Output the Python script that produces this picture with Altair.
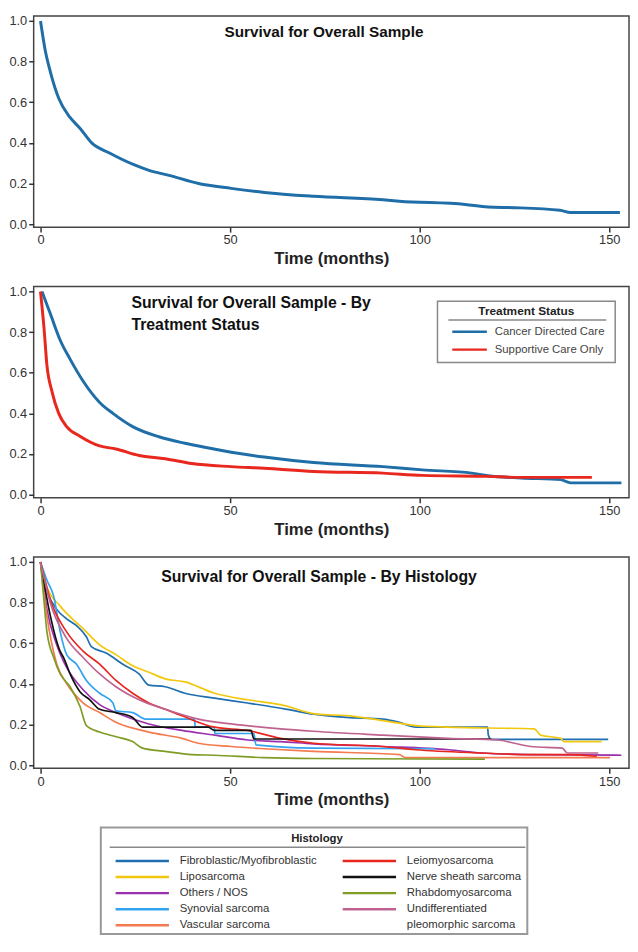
import altair as alt
import pandas as pd

# ---------------- data ----------------
x_ticks = [0, 50, 100, 150]
y_ticks = [0.0, 0.2, 0.4, 0.6, 0.8, 1.0]

overall_t = [0, 1.2, 2.6, 4.8, 7.8, 10.4, 13.5, 18.2, 24.3, 28.6, 33.9, 41.7, 50.3, 59, 72, 90.3, 94.6, 112, 118, 125, 137, 139.8, 152.8]
overall_s = [1.0, 0.86, 0.75, 0.62, 0.525, 0.472, 0.40, 0.35, 0.295, 0.265, 0.24, 0.20, 0.176, 0.156, 0.137, 0.12, 0.113, 0.097, 0.084, 0.081, 0.068, 0.057, 0.057]

treatment_names = ["Cancer Directed Care", "Supportive Care Only"]
treatment_colors = ["#1f6ea8", "#e8281e"]
cdc_t = [0.4, 2.6, 5.2, 7.8, 11.3, 15.6, 19.1, 24.3, 31.2, 38.1, 43.3, 50.3, 59, 72, 90.3, 100.7, 113.7, 118, 126.7, 137.2, 139.8, 153.2]
cdc_s = [1.0, 0.89, 0.76, 0.667, 0.557, 0.454, 0.40, 0.335, 0.285, 0.253, 0.233, 0.209, 0.185, 0.158, 0.138, 0.122, 0.106, 0.093, 0.082, 0.074, 0.058, 0.058]
sco_t = [0, 0.9, 1.7, 3.0, 4.8, 6.9, 10.4, 15.6, 19.9, 26, 32.9, 39.9, 50.3, 59, 72, 90.3, 100.7, 118, 126.7, 145.4]
sco_s = [1.0, 0.826, 0.636, 0.51, 0.40, 0.335, 0.288, 0.24, 0.225, 0.193, 0.177, 0.153, 0.138, 0.13, 0.114, 0.106, 0.095, 0.09, 0.085, 0.085]

histology_names = ["Fibroblastic/Myofibroblastic", "Liposarcoma", "Others / NOS", "Synovial sarcoma",
                   "Vascular sarcoma", "Leiomyosarcoma", "Nerve sheath sarcoma", "Rhabdomyosarcoma",
                   "Undifferentiated pleomorphic sarcoma"]
histology_colors = ["#1f6fb0", "#f2c80f", "#9b2fae", "#33a3f0", "#f47a50", "#e8261e", "#111111", "#7f9c24", "#c0628f"]
legend_col = [0, 0, 0, 0, 0, 1, 1, 1, 1]
legend_row = [0, 1, 2, 3, 4, 0, 1, 2, 3]
legend_lines = [["Fibroblastic/Myofibroblastic"], ["Liposarcoma"], ["Others / NOS"], ["Synovial sarcoma"],
                ["Vascular sarcoma"], ["Leiomyosarcoma"], ["Nerve sheath sarcoma"], ["Rhabdomyosarcoma"],
                ["Undifferentiated", "pleomorphic sarcoma"]]

fibro_t = [0, 1.7, 4.3, 6.9, 9.5, 12.1, 13.4, 17.3, 21.7, 26, 28.6, 32.9, 38.1, 45.9, 54.6, 65, 72, 80.7, 90.3, 94.6, 99, 112, 117.9, 118.1, 118.9, 149.7]
fibro_s = [1, 0.86, 0.767, 0.72, 0.687, 0.632, 0.584, 0.552, 0.497, 0.449, 0.394, 0.386, 0.354, 0.33, 0.306, 0.275, 0.251, 0.235, 0.227, 0.211, 0.187, 0.187, 0.187, 0.148, 0.127, 0.127]
lipo_t = [0, 1.7, 5.2, 11.3, 15.6, 19.9, 24.3, 28.6, 32.9, 38.1, 45.9, 54.6, 63.3, 72.9, 81.6, 90.3, 99, 107.6, 118, 130.2, 131.9, 137.2, 138, 148]
lipo_s = [1, 0.878, 0.783, 0.671, 0.592, 0.544, 0.489, 0.457, 0.425, 0.41, 0.354, 0.322, 0.298, 0.251, 0.243, 0.219, 0.195, 0.187, 0.183, 0.179, 0.148, 0.132, 0.116, 0.116]
others_t = [0, 1.7, 4.3, 6.9, 11.3, 15.6, 19.9, 28.6, 37.3, 45.9, 54.6, 63.3, 72, 90.3, 107.6, 116.2, 129.3, 153.2]
others_s = [1, 0.767, 0.592, 0.481, 0.37, 0.298, 0.259, 0.203, 0.171, 0.148, 0.124, 0.116, 0.105, 0.092, 0.076, 0.06, 0.052, 0.049]
syn_t = [0, 1.7, 3.5, 5.2, 6.9, 9.5, 12.1, 15.6, 19.1, 19.9, 24.3, 27.7, 40.6, 40.8, 45.8, 46.0, 56.3, 56.8, 72, 104]
syn_s = [1, 0.91, 0.83, 0.656, 0.544, 0.497, 0.417, 0.354, 0.306, 0.267, 0.259, 0.227, 0.227, 0.187, 0.187, 0.156, 0.156, 0.10, 0.084, 0.081]
vasc_t = [0, 1.7, 4.3, 6.9, 11.3, 15.6, 19.9, 28.6, 37.3, 41.6, 50.3, 58.9, 72, 94.6, 96.3, 150.2]
vasc_s = [1, 0.735, 0.497, 0.402, 0.306, 0.259, 0.211, 0.163, 0.132, 0.108, 0.092, 0.081, 0.068, 0.052, 0.037, 0.037]
leio_t = [0, 2.6, 6.9, 11.3, 15.6, 19.9, 24.3, 28.6, 32.9, 37.3, 45.9, 54.6, 63.3, 72, 90.3, 99, 116.2, 129.3, 139.8, 146.7]
leio_s = [1, 0.814, 0.656, 0.56, 0.497, 0.417, 0.354, 0.306, 0.275, 0.243, 0.187, 0.171, 0.132, 0.108, 0.092, 0.076, 0.06, 0.052, 0.052, 0.044]
nerve_t = [0, 2.6, 5.2, 6.1, 7.8, 10.4, 13, 15.6, 19.9, 24.3, 26.9, 44.2, 45.9, 55.5, 56.3, 118.9]
nerve_s = [1, 0.735, 0.56, 0.529, 0.449, 0.362, 0.322, 0.275, 0.259, 0.235, 0.187, 0.187, 0.171, 0.171, 0.129, 0.129]
rhabdo_t = [0, 0.9, 1.7, 3.5, 5.2, 7.8, 10.4, 12.1, 15.6, 19.9, 24.3, 26.9, 32.9, 39.9, 45.9, 58.9, 72, 117.2]
rhabdo_s = [1, 0.814, 0.656, 0.529, 0.449, 0.386, 0.29, 0.195, 0.163, 0.14, 0.116, 0.084, 0.068, 0.052, 0.049, 0.037, 0.033, 0.03]
undiff_t = [0, 2.6, 6.9, 11.3, 15.6, 19.9, 26, 32.9, 41.6, 50.3, 63.3, 72, 90.3, 107.6, 120.6, 125, 129.3, 137.6, 138.9, 147.1]
undiff_s = [1, 0.798, 0.624, 0.529, 0.449, 0.386, 0.322, 0.275, 0.227, 0.203, 0.179, 0.167, 0.148, 0.132, 0.124, 0.108, 0.092, 0.084, 0.06, 0.06]

hist_series = [(fibro_t, fibro_s), (lipo_t, lipo_s), (others_t, others_s), (syn_t, syn_s), (vasc_t, vasc_s),
               (leio_t, leio_s), (nerve_t, nerve_s), (rhabdo_t, rhabdo_s), (undiff_t, undiff_s)]

# ---------------- helpers ----------------
FONT = "Liberation Sans"
W, H = 603, 214


def enc_x():
    return alt.X("t:Q", scale=alt.Scale(domain=[-1.8, 155.2], nice=False, zero=False),
                 axis=alt.Axis(values=x_ticks, title="Time (months)", labelFlush=False))


def enc_y():
    return alt.Y("s:Q", scale=alt.Scale(domain=[-0.015, 1.025], nice=False, zero=False),
                 axis=alt.Axis(values=y_ticks, format=".1f", title=None))


def title_layer(text, x, y, size, align="center", baseline="middle"):
    return alt.Chart(pd.DataFrame({"label": [text]})).mark_text(
        font=FONT, fontSize=size, fontWeight="bold", color="#111", align=align, baseline=baseline,
        lineBreak="\n", lineHeight=22
    ).encode(text="label:N", x=alt.value(x), y=alt.value(y))


# ---------------- panel 1 ----------------
df1 = pd.DataFrame({"t": overall_t, "s": overall_s, "i": range(len(overall_t))})
p1_line = alt.Chart(df1).mark_line(color="#1f6ea8", strokeWidth=3, interpolate="monotone").encode(
    x=enc_x(), y=enc_y(), order="i:Q")
panel1 = alt.layer(p1_line, title_layer("Survival for Overall Sample", 294, 16, 15.5)).properties(width=W, height=H)

# ---------------- panel 2 ----------------
rows = []
for name, tt, ss in [(treatment_names[0], cdc_t, cdc_s), (treatment_names[1], sco_t, sco_s)]:
    for i, (a, b) in enumerate(zip(tt, ss)):
        rows.append({"name": name, "t": a, "s": b, "i": i})
df2 = pd.DataFrame(rows)
tscale = alt.Scale(domain=treatment_names, range=treatment_colors)
p2_lines = alt.Chart(df2).mark_line(strokeWidth=3, interpolate="monotone").encode(
    x=enc_x(), y=enc_y(), order="i:Q", detail="name:N",
    color=alt.Color("name:N", scale=tscale, legend=None))

tdf = pd.DataFrame({"name": treatment_names, "row": [0, 1]})
leg2_y = alt.Y("row:Q", scale=alt.Scale(domain=[0, 1], range=[46, 64]), axis=None)
leg2_box = alt.Chart(pd.DataFrame({"a": [0]})).mark_rect(fill="white", stroke="#888", strokeWidth=1.5).encode(
    x=alt.value(409), x2=alt.value(589), y=alt.value(15), y2=alt.value(77))
leg2_title = alt.Chart(pd.DataFrame({"label": ["Treatment Status"]})).mark_text(
    font=FONT, fontSize=12, fontWeight="bold", color="#222", align="center", baseline="middle"
).encode(text="label:N", x=alt.value(499), y=alt.value(25))
leg2_under = alt.Chart(pd.DataFrame({"a": [0]})).mark_rule(color="#888", strokeWidth=1.5).encode(
    x=alt.value(420), x2=alt.value(580), y=alt.value(34))
leg2_rules = alt.Chart(tdf).mark_rule(strokeWidth=2.5).encode(
    x=alt.value(424), x2=alt.value(459), y=leg2_y, color=alt.Color("name:N", scale=tscale, legend=None))
leg2_text = alt.Chart(tdf).mark_text(font=FONT, fontSize=11.5, color="#444", align="left", baseline="middle").encode(
    x=alt.value(467), y=leg2_y, text="name:N")

panel2 = alt.layer(
    p2_lines,
    title_layer("Survival for Overall Sample - By\nTreatment Status", 99, 9, 16, align="left", baseline="top"),
    leg2_box, leg2_title, leg2_under, leg2_rules, leg2_text
).resolve_scale(y="independent").properties(width=W, height=H)

# ---------------- panel 3 ----------------
rows = []
for name, (tt, ss) in zip(histology_names, hist_series):
    for i, (a, b) in enumerate(zip(tt, ss)):
        rows.append({"name": name, "t": a, "s": b, "i": i})
df3 = pd.DataFrame(rows)
hscale = alt.Scale(domain=histology_names, range=histology_colors)
p3_lines = alt.Chart(df3).mark_line(strokeWidth=1.7, interpolate="monotone").encode(
    x=enc_x(), y=enc_y(), order="i:Q", detail="name:N",
    color=alt.Color("name:N", scale=hscale, legend=None))
panel3 = alt.layer(p3_lines, title_layer("Survival for Overall Sample - By Histology", 289, 20, 16)).properties(width=W, height=H)

# ---------------- histology legend ----------------
hl = pd.DataFrame({"name": histology_names, "col": legend_col, "row": legend_row})
txt_rows = []
for name, c, r, lines in zip(histology_names, legend_col, legend_row, legend_lines):
    for k, line in enumerate(lines):
        txt_rows.append({"label": line, "col": c, "row": r + k})
ht = pd.DataFrame(txt_rows)
lx = alt.X("col:Q", scale=alt.Scale(domain=[0, 1], range=[83, 313]), axis=None)
ly = alt.Y("row:Q", scale=alt.Scale(domain=[0, 4], range=[35, 100]), axis=None)

lg_box = alt.Chart(pd.DataFrame({"a": [0]})).mark_rect(fill="white", stroke="#999", strokeWidth=2).encode(
    x=alt.value(68), x2=alt.value(500), y=alt.value(1), y2=alt.value(109))
lg_title = alt.Chart(pd.DataFrame({"label": ["Histology"]})).mark_text(
    font=FONT, fontSize=11.5, fontWeight="bold", color="#222", align="center", baseline="middle"
).encode(text="label:N", x=alt.value(287), y=alt.value(13))
lg_under = alt.Chart(pd.DataFrame({"a": [0]})).mark_rule(color="#888", strokeWidth=1.5).encode(
    x=alt.value(77), x2=alt.value(498), y=alt.value(21))
lg_rules = alt.Chart(hl).mark_rule(strokeWidth=2.5, x2Offset=54).encode(
    x=lx, x2=alt.X2("col:Q"), y=ly, color=alt.Color("name:N", scale=hscale, legend=None))
lg_text = alt.Chart(ht).mark_text(font=FONT, fontSize=11.5, color="#333", align="left", baseline="middle", dx=65).encode(
    x=lx, y=ly, text="label:N")

legend_panel = alt.layer(lg_box, lg_title, lg_under, lg_rules, lg_text).properties(
    width=W, height=110, view=alt.ViewBackground(stroke="transparent"))

chart = alt.vconcat(panel1, panel2, panel3, legend_panel, spacing=17).resolve_scale(
    color="independent", x="independent", y="independent"
).properties(padding=0, background="white").configure_view(
    stroke="#444", strokeWidth=1.5
).configure_axis(
    labelFont=FONT, labelFontSize=13, labelColor="#333", tickColor="#333", tickWidth=1.5, tickSize=5,
    domain=False, grid=False, titleFont=FONT, titleFontSize=17, titleFontWeight="bold", titleColor="#222",
    labelPadding=2
)

chart.save("out.html", embed_options={"renderer": "svg", "actions": False})
